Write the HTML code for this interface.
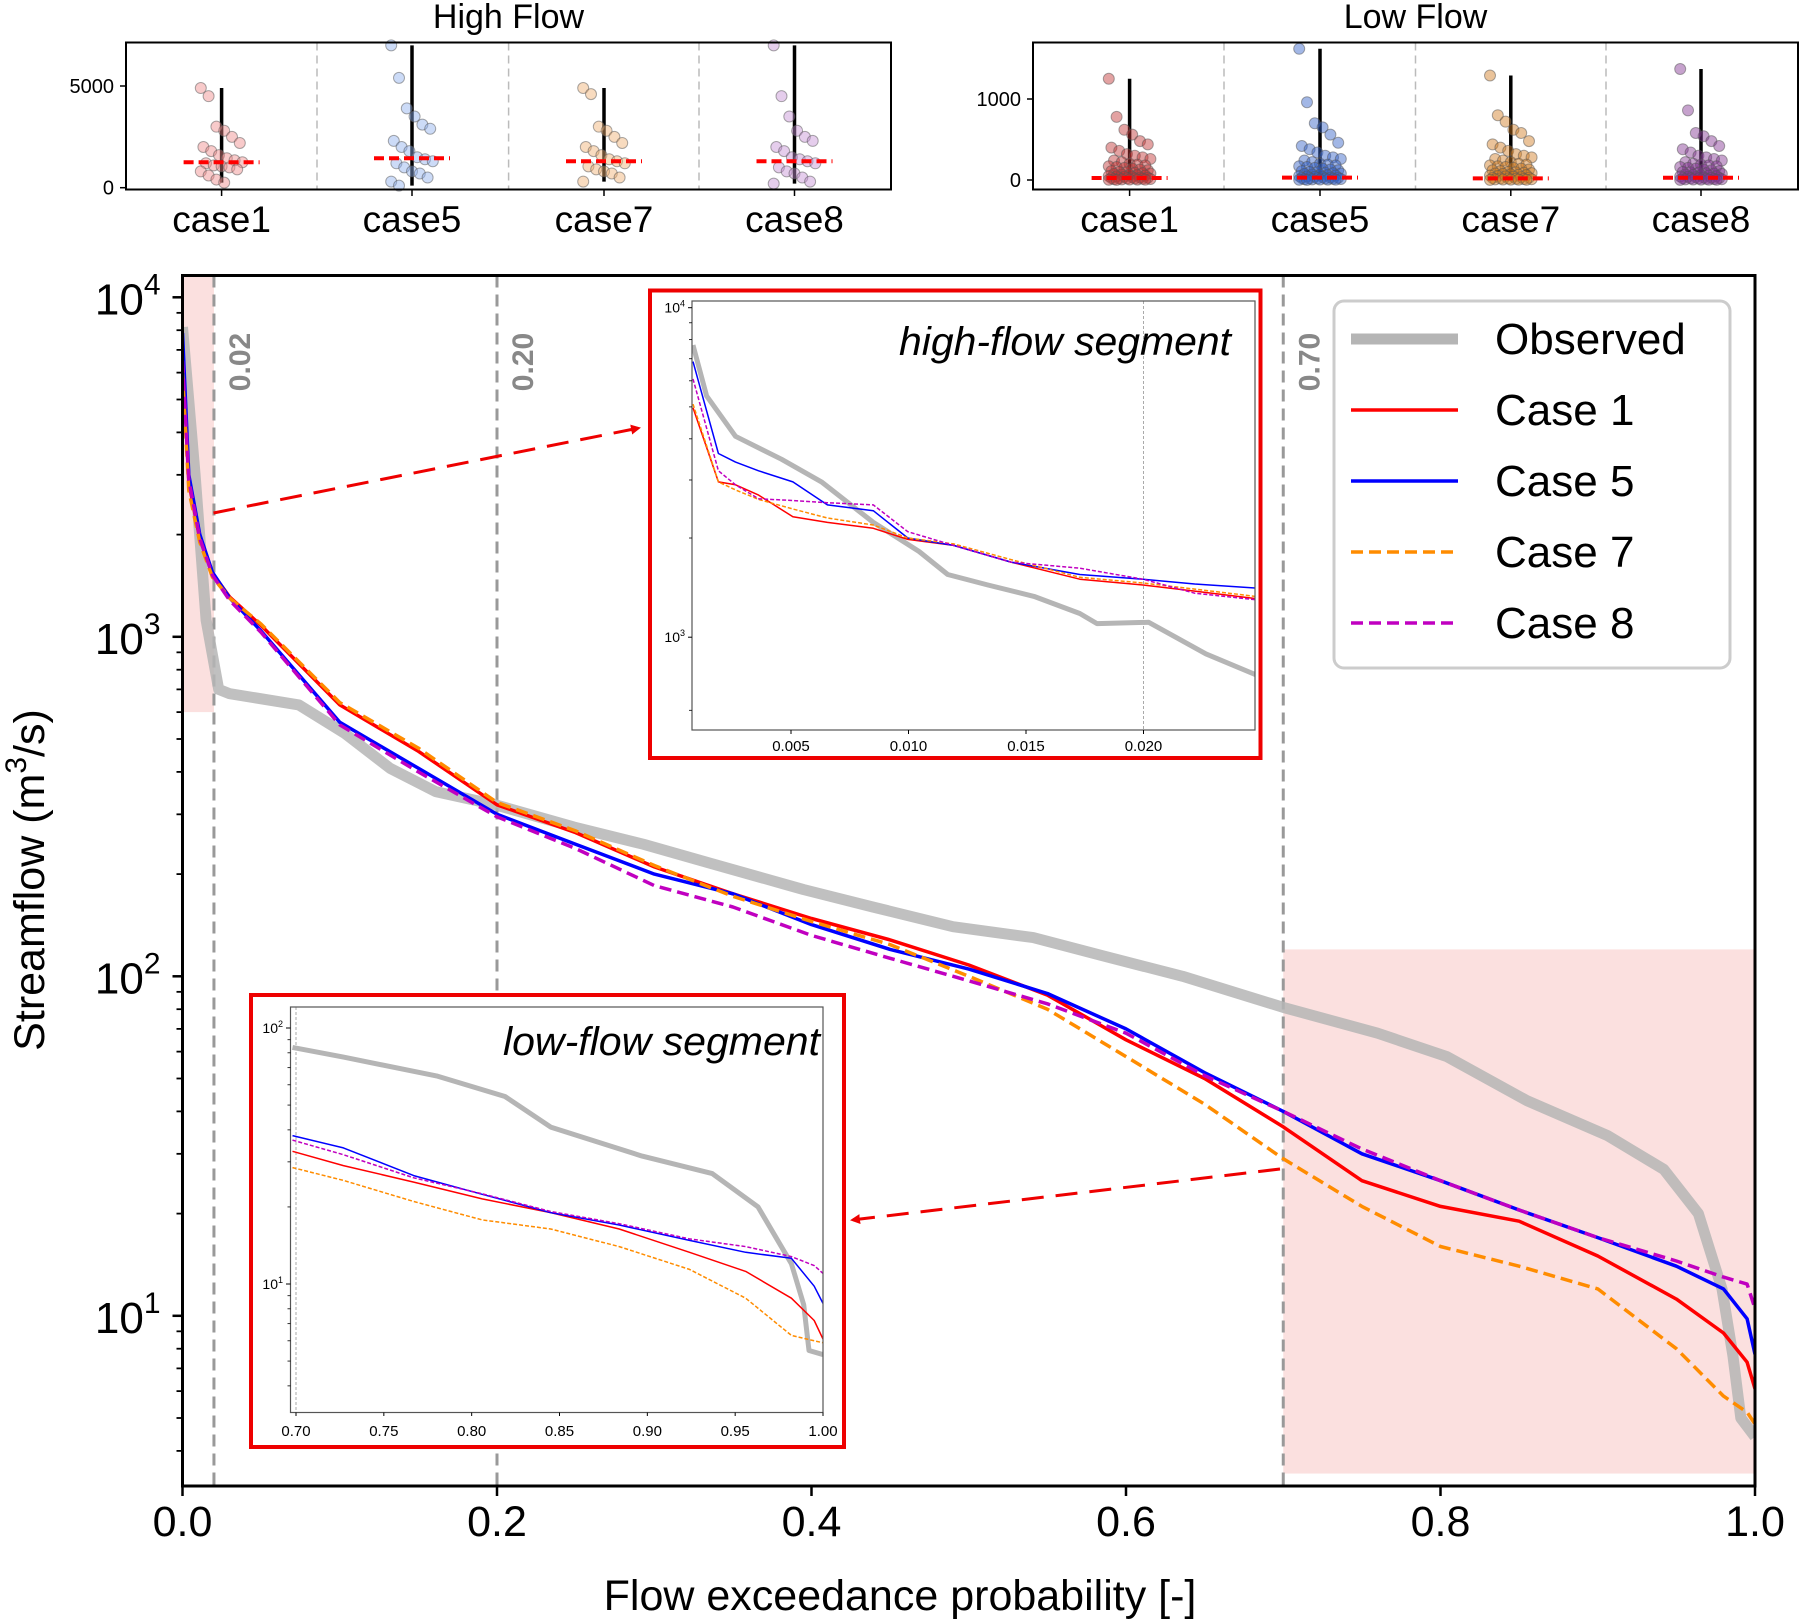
<!DOCTYPE html>
<html><head><meta charset="utf-8"><style>
html,body{margin:0;padding:0;background:#fff;}
svg{display:block;font-family:"Liberation Sans",Arial,sans-serif;}
</style></head><body>
<svg id="chart" width="1800" height="1624" viewBox="0 0 1800 1624" xmlns="http://www.w3.org/2000/svg">
<defs>
<clipPath id="mainClip"><rect x="182.5" y="275.5" width="1572.5" height="1210.5"/></clipPath>
<clipPath id="hiClip"><rect x="692" y="301" width="563" height="429"/></clipPath>
<clipPath id="loClip"><rect x="290.5" y="1007" width="532.5" height="405.5"/></clipPath>
<marker id="arrowHead" markerWidth="10" markerHeight="10" refX="8" refY="5" orient="auto" markerUnits="userSpaceOnUse"><path d="M0,0 L10,5 L0,10 z" fill="#e00"/></marker>
</defs>
</svg>
<script>
// ===== Main flow-duration curve data =====
const obsP = [0,0.008,0.015,0.023,0.03,0.074,0.103,0.132,0.161,0.199,0.249,0.293,0.336,0.395,0.439,0.49,0.541,0.585,0.636,0.7,0.76,0.804,0.855,0.906,0.942,0.964,0.979,0.986,0.991,1.0];
const obsV = [8170,3000,1120,700,680,630,520,410,350,320,275,245,215,180,160,140,130,115,100,81,68,58,43,34,27,20,12,7.6,5,4.4];
const caseP = [0,0.004,0.011,0.019,0.03,0.05,0.1,0.15,0.2,0.25,0.3,0.35,0.4,0.45,0.5,0.55,0.6,0.65,0.7,0.75,0.8,0.85,0.9,0.95,0.98,0.995,1.0];
const case1V = [7300,2850,1940,1540,1310,1080,630,460,320,265,210,175,148,128,108,88,65,50,36,25,21,19,15,11.2,8.9,7.3,6.1];
const case5V = [7850,3000,2000,1550,1300,1040,560,410,300,245,200,175,142,120,105,89,70,52,40,30,25,20.5,17,14,12,9.8,7.7];
const case7V = [6000,2700,1900,1500,1300,1090,640,470,325,268,212,172,145,124,100,80,58,42,29,21,16,14,12,8,5.8,5.2,4.8];
const case8V = [6500,2900,1950,1520,1280,1030,550,400,295,238,185,160,132,113,97,83,68,51,40,31,25,20.5,17,14.5,13,12.4,10.5];
const xTicks = [0,0.2,0.4,0.6,0.8,1.0];
const xTickLabels = ["0.0","0.2","0.4","0.6","0.8","1.0"];
const yDecades = [1,2,3,4];
const thresholds = [0.02,0.20,0.70];
const thresholdLabels = ["0.02","0.20","0.70"];
// ===== High-flow inset =====
const hiP = [0.00083,0.00141,0.00264,0.00459,0.0063,0.0085,0.01045,0.01167,0.01338,0.01534,0.01729,0.01802,0.02022,0.02266,0.02476];
const hiObs = [7700,5400,4070,3470,2960,2230,1820,1550,1440,1330,1180,1100,1110,890,770];
const hiP2 = [0.00083,0.00191,0.00264,0.00362,0.00508,0.00655,0.0085,0.00997,0.01192,0.01436,0.01729,0.01998,0.02218,0.02476];
const hiCase1 = [4970,2960,2900,2700,2320,2230,2140,1980,1900,1690,1500,1440,1380,1310];
const hiCase5 = [6860,3610,3400,3200,2960,2520,2420,2000,1900,1690,1550,1500,1450,1410];
const hiCase7 = [5100,2960,2800,2620,2450,2300,2190,2000,1920,1720,1520,1460,1400,1330];
const hiCase8 = [6080,3200,2900,2630,2600,2560,2520,2090,1900,1690,1620,1500,1360,1300];
const hiTicks = [0.005,0.010,0.015,0.020];
const hiTickLabels = ["0.005","0.010","0.015","0.020"];
// ===== Low-flow inset =====
const loP = [0.698,0.727,0.780,0.819,0.845,0.897,0.937,0.963,0.982,0.989,0.992,1.0];
const loObs = [84,77,65,54,41,31.6,27,20,12,8.3,5.5,5.3];
const loP2 = [0.698,0.727,0.767,0.806,0.845,0.884,0.924,0.956,0.982,0.995,1.0];
const loCase1 = [33,29,25,21.5,19,16.4,13.3,11.2,8.8,7.2,6.1];
const loCase5 = [38,34,26.5,22.4,19,17,14.8,13.3,12.6,9.8,8.4];
const loCase7 = [28.5,25.4,21,17.8,16.4,14,11.4,8.8,6.3,6.0,5.9];
const loCase8 = [36.5,32,26,22.5,19.2,17.2,15,14,12.8,11.8,11];
const loTicks = [0.70,0.75,0.80,0.85,0.90,0.95,1.00];
const loTickLabels = ["0.70","0.75","0.80","0.85","0.90","0.95","1.00"];
// ===== Strip plots =====
const stripCats = ["case1","case5","case7","case8"];
const highC1 = [4900,4500,3000,2800,2500,2200,2000,1800,1600,1450,1350,1250,1200,1100,1050,1000,900,800,600,400,250];
const highC5 = [7000,5400,3900,3500,3100,2900,2300,2000,1800,1500,1400,1300,1200,1000,800,700,500,300,100];
const highC7 = [4900,4600,3000,2800,2500,2200,2000,1800,1600,1400,1300,1200,1050,900,800,700,500,300];
const highC8 = [7000,4500,3500,2800,2500,2300,2000,1800,1500,1400,1300,1200,1000,800,700,500,300,200];
const highMed = [1250,1450,1300,1300];
const highMax = [4900,7000,4900,7000];
const lowC1 = [1250,780,620,560,480,440,400,360,320,300,280,260,240,220,200,190,180,170,160,150,140,130,120,110,100,95,90,85,80,75,70,65,60,55,50,45,40,35,30,28,25,22,20,18,15,12,10,8,6,5,4,3,2];
const lowC5 = [1620,960,700,650,560,460,420,380,340,300,280,260,240,220,200,190,180,170,160,150,140,130,120,110,100,95,90,85,80,75,70,65,60,55,50,45,40,35,30,28,25,22,20,18,15,12,10,8,6,5,4,3,2];
const lowC7 = [1290,800,720,620,580,480,440,400,360,320,300,280,260,240,220,200,190,180,170,160,150,140,130,120,110,100,95,90,85,80,75,70,65,60,55,50,45,40,35,30,25,20,18,15,12,10,8,6,5,4,3,2];
const lowC8 = [1370,860,580,540,480,420,380,340,300,280,260,240,220,200,190,180,170,160,150,140,130,120,110,100,95,90,85,80,75,70,65,60,55,50,45,40,35,30,28,25,22,20,18,15,12,10,8,6,5,4,3,2];
const lowMed = [25,30,20,28];
const lowMax = [1250,1620,1290,1370];

const NS = "http://www.w3.org/2000/svg";
const svg = document.getElementById('chart');
function mk(tag, attrs, parent, text){
  const e = document.createElementNS(NS, tag);
  for (const k in attrs) e.setAttribute(k, attrs[k]);
  if (text !== undefined) e.textContent = text;
  (parent || svg).appendChild(e);
  return e;
}
function lineD(ps, vs, fx, fy){ return ps.map((p,i)=>(i?'L':'M')+fx(p).toFixed(1)+','+fy(vs[i]).toFixed(1)).join(' '); }

// ===== Main axes =====
const L=182.5,R=1755,T=275.5,B=1486;
const X = p => L + p*(R-L);
const Y = v => 297.3 + (4-Math.log10(v))*339.5;
let g = mk('g',{});


let r = mk('rect',{x:X(0),y:T,width:X(0.02)-X(0),height:Y(600)-T,fill:'#fbe0df'},g);
 
r = mk('rect',{x:X(0.7),y:Y(120),width:X(1)-X(0.7),height:Y(3.43)-Y(120),fill:'#fbe0df'},g);
 
thresholds.forEach((t,i)=>{
  const l = mk('line',{x1:X(t),x2:X(t),y1:T,y2:B,stroke:'#999','stroke-width':3,'stroke-dasharray':'12,7'},g);
   
  const tx = mk('text',{x:0,y:0,transform:`translate(${X(t)+36},${362}) rotate(-90)`,'text-anchor':'middle','font-size':30,'font-weight':'bold',fill:'#888'},g,thresholdLabels[i]);
   
});
const cg = mk('g',{'clip-path':'url(#mainClip)'},g);
function series(ps,vs,fx,fy,col,w,dash,name,parent,op){
  const a = {d:lineD(ps,vs,fx,fy),fill:'none',stroke:col,'stroke-width':w,'stroke-linejoin':'round'};
  if(dash) a['stroke-dasharray']=dash;
  if(op) a['stroke-opacity']=op;
  const p = mk('path',a,parent);
   
}
series(obsP,obsV,X,Y,'#b5b5b5',11,null,'observed-line',cg,0.85);
series(caseP,case1V,X,Y,'#ff0000',3.5,null,'case1-line',cg);
series(caseP,case5V,X,Y,'#0000ff',3.5,null,'case5-line',cg);
series(caseP,case7V,X,Y,'#ff8c00',3.5,'12,6','case7-line',cg);
series(caseP,case8V,X,Y,'#c000c0',3.5,'12,6','case8-line',cg);
r = mk('rect',{x:L,y:T,width:R-L,height:B-T,fill:'none',stroke:'#000','stroke-width':3},g);
 
xTicks.forEach((t,i)=>{
  mk('line',{x1:X(t),x2:X(t),y1:B,y2:B+10,stroke:'#000','stroke-width':2.5},g);
  const tx = mk('text',{x:X(t),y:B+50,'text-anchor':'middle','font-size':43},g,xTickLabels[i]);
   
});
yDecades.forEach(d=>{
  const yy = Y(Math.pow(10,d));
  mk('line',{x1:L-10,x2:L,y1:yy,y2:yy,stroke:'#000','stroke-width':2.5},g);
  const tx = mk('text',{x:L-22,y:yy+17,'text-anchor':'end','font-size':44},g);
   
  mk('tspan',{},tx,'10');
  mk('tspan',{dy:-20,'font-size':30},tx,String(d));
});
for(let d=0; d<4; d++) for(let m=2;m<10;m++){
  const yy = Y(m*Math.pow(10,d));
  if(yy>T && yy<B) mk('line',{x1:L-6,x2:L,y1:yy,y2:yy,stroke:'#000','stroke-width':1.8},g);
}
let t = mk('text',{x:900,y:1610,'text-anchor':'middle','font-size':43},g,'Flow exceedance probability [-]');
 
t = mk('text',{x:0,y:0,transform:'translate(44,880) rotate(-90)','text-anchor':'middle','font-size':43},g);
 
mk('tspan',{},t,'Streamflow (m');mk('tspan',{dy:-18,'font-size':30},t,'3');mk('tspan',{dy:18},t,'/s)');

let a = mk('line',{x1:213.5,y1:513,x2:639,y2:428,stroke:'#e00','stroke-width':3,'stroke-dasharray':'22,12','marker-end':'url(#arrowHead)'});
 
a = mk('line',{x1:1280,y1:1169,x2:852,y2:1220,stroke:'#e00','stroke-width':3,'stroke-dasharray':'22,12','marker-end':'url(#arrowHead)'});
 

const lg = mk('g',{});
 
mk('rect',{x:1334,y:301,width:396,height:367,rx:10,fill:'#fff','fill-opacity':0.9,stroke:'#ccc','stroke-width':3},lg);
const legNames=['Observed','Case 1','Case 5','Case 7','Case 8'];
const legCols=['#b5b5b5','#ff0000','#0000ff','#ff8c00','#c000c0'];
const legW=[11,3.5,3.5,3.5,3.5];
const legDash=[null,null,null,'12,6','12,6'];
legNames.forEach((n,i)=>{
  const yy = 339 + i*71;
  const e = mk('g',{},lg);
  
  
  const at={x1:1351,x2:1458,y1:yy,y2:yy,stroke:legCols[i],'stroke-width':legW[i]};
  if(legDash[i]) at['stroke-dasharray']=legDash[i];
  mk('line',at,e);
  mk('text',{x:1495,y:yy+15,'font-size':44},e,n);
});

// ===== High-flow inset =====
const HX = p => 791 + (p-0.005)*23500;
const HY = v => 307.7 + (4-Math.log10(v))*329.5;
const hg = mk('g',{});
 
mk('rect',{x:650,y:290.5,width:610.5,height:467.5,fill:'#fff',stroke:'#e00','stroke-width':4},hg);
mk('line',{x1:HX(0.02),x2:HX(0.02),y1:301,y2:730,stroke:'#aaa','stroke-width':1,'stroke-dasharray':'3,2'},hg);
const hc = mk('g',{'clip-path':'url(#hiClip)'},hg);
series(hiP,hiObs,HX,HY,'#b5b5b5',5,null,'inset-observed-line',hc);
series(hiP2,hiCase1,HX,HY,'#ff0000',1.5,null,'inset-case1-line',hc);
series(hiP2,hiCase5,HX,HY,'#0000ff',1.5,null,'inset-case5-line',hc);
series(hiP2,hiCase7,HX,HY,'#ff8c00',1.5,'4,2','inset-case7-line',hc);
series(hiP2,hiCase8,HX,HY,'#c000c0',1.5,'4,2','inset-case8-line',hc);
mk('rect',{x:692,y:301,width:563,height:429,fill:'none',stroke:'#555','stroke-width':1.2},hg);
hiTicks.forEach((tk,i)=>{
  mk('line',{x1:HX(tk),x2:HX(tk),y1:730,y2:734,stroke:'#000','stroke-width':1},hg);
  mk('text',{x:HX(tk),y:751,'text-anchor':'middle','font-size':15},hg,hiTickLabels[i]);
});
[3,4].forEach(d=>{
  const yy=HY(Math.pow(10,d));
  mk('line',{x1:688,x2:692,y1:yy,y2:yy,stroke:'#000','stroke-width':1},hg);
  const tx=mk('text',{x:685,y:yy+5,'text-anchor':'end','font-size':14},hg);
  mk('tspan',{},tx,'10');mk('tspan',{dy:-6,'font-size':9},tx,String(d));
});
for(let m=2;m<10;m++){const yy=HY(m*1000); if(yy>301) mk('line',{x1:689,x2:692,y1:yy,y2:yy,stroke:'#000','stroke-width':0.8},hg);}
const yy6=HY(600); if(yy6<730) mk('line',{x1:689,x2:692,y1:yy6,y2:yy6,stroke:'#000','stroke-width':0.8},hg);
t = mk('text',{x:1231,y:355,'text-anchor':'end','font-size':40,'font-style':'italic',textLength:332,lengthAdjust:'spacingAndGlyphs'},hg,'high-flow segment');
 

// ===== Low-flow inset =====
const LX = p => 296 + (p-0.7)*1756.7;
const LY = v => 1028 + (2-Math.log10(v))*256;
const lgp = mk('g',{});
 
mk('rect',{x:251,y:995,width:593,height:452,fill:'#fff',stroke:'#e00','stroke-width':4},lgp);
mk('line',{x1:LX(0.7),x2:LX(0.7),y1:1007,y2:1412.5,stroke:'#aaa','stroke-width':1,'stroke-dasharray':'3,2'},lgp);
const lc = mk('g',{'clip-path':'url(#loClip)'},lgp);
series(loP,loObs,LX,LY,'#b5b5b5',5,null,'inset-observed-line',lc);
series(loP2,loCase1,LX,LY,'#ff0000',1.5,null,'inset-case1-line',lc);
series(loP2,loCase5,LX,LY,'#0000ff',1.5,null,'inset-case5-line',lc);
series(loP2,loCase7,LX,LY,'#ff8c00',1.5,'4,2','inset-case7-line',lc);
series(loP2,loCase8,LX,LY,'#c000c0',1.5,'4,2','inset-case8-line',lc);
mk('rect',{x:290.5,y:1007,width:532.5,height:405.5,fill:'none',stroke:'#555','stroke-width':1.2},lgp);
loTicks.forEach((tk,i)=>{
  mk('line',{x1:LX(tk),x2:LX(tk),y1:1412.5,y2:1416,stroke:'#000','stroke-width':1},lgp);
  mk('text',{x:LX(tk),y:1436,'text-anchor':'middle','font-size':15},lgp,loTickLabels[i]);
});
[1,2].forEach(d=>{
  const yy=LY(Math.pow(10,d));
  mk('line',{x1:286,x2:290.5,y1:yy,y2:yy,stroke:'#000','stroke-width':1},lgp);
  const tx=mk('text',{x:283,y:yy+5,'text-anchor':'end','font-size':14},lgp);
  mk('tspan',{},tx,'10');mk('tspan',{dy:-6,'font-size':9},tx,String(d));
});
for(let d=0;d<2;d++)for(let m=2;m<10;m++){const yy=LY(m*Math.pow(10,d)); if(yy>1007&&yy<1412) mk('line',{x1:287.5,x2:290.5,y1:yy,y2:yy,stroke:'#000','stroke-width':0.8},lgp);}
t = mk('text',{x:820,y:1055,'text-anchor':'end','font-size':40,'font-style':'italic',textLength:317,lengthAdjust:'spacingAndGlyphs'},lgp,'low-flow segment');
 

// ===== Strip plots =====
function stripPanel(x0,x1,title,catX,divX,sets,meds,maxs,fy,ticks,tickLabels,colors,name){
  const pg = mk('g',{});
   
  const tt = mk('text',{x:(x0+x1)/2,y:28,'text-anchor':'middle','font-size':34},pg,title);
   
  divX.forEach(dx=>mk('line',{x1:dx,x2:dx,y1:42.5,y2:189.5,stroke:'#bbb','stroke-width':1.5,'stroke-dasharray':'8,5'},pg));
  sets.forEach((vals,c)=>{
    const cx = catX[c];
    const mn = Math.min.apply(null,vals);
    mk('line',{x1:cx,x2:cx,y1:fy(mn),y2:fy(maxs[c]),stroke:'#000','stroke-width':3.5},pg);
    vals.forEach((v,i)=>{
      const jx = (((i*37)%17)-8)*2.6;
      const pt = mk('circle',{cx:cx+jx,cy:fy(v),r:5.5,fill:colors[c],'fill-opacity':0.45,stroke:'#555','stroke-opacity':0.5,'stroke-width':1},pg);
       
    });
    const md = mk('line',{x1:cx-38,x2:cx+38,y1:fy(meds[c]),y2:fy(meds[c]),stroke:'#ff0000','stroke-width':4,'stroke-dasharray':'10,5'},pg);
     
    const cl = mk('text',{x:cx,y:232,'text-anchor':'middle','font-size':37},pg,stripCats[c]);
     
    mk('line',{x1:cx,x2:cx,y1:189.5,y2:196,stroke:'#000','stroke-width':1.5},pg);
  });
  mk('rect',{x:x0,y:42.5,width:x1-x0,height:147,fill:'none',stroke:'#000','stroke-width':2},pg);
  ticks.forEach((tk,i)=>{
    mk('line',{x1:x0-6,x2:x0,y1:fy(tk),y2:fy(tk),stroke:'#000','stroke-width':1.5},pg);
    mk('text',{x:x0-12,y:fy(tk)+7,'text-anchor':'end','font-size':20},pg,tickLabels[i]);
  });
}
stripPanel(126,891,'High Flow',[221.6,412,604,794.5],[317,508.6,699],[highC1,highC5,highC7,highC8],highMed,highMax,
  v=>187.7 - v*(101.7/5000),[0,5000],['0','5000'],['#f08a8a','#8fb0ee','#f0b070','#c690d4'],'high-flow-strip');
stripPanel(1033,1798,'Low Flow',[1129.6,1320,1510.8,1701],[1224,1415.5,1606],[lowC1,lowC5,lowC7,lowC8],lowMed,lowMax,
  v=>180 - v*0.081,[0,1000],['0','1000'],['#c03030','#3060c8','#d07a20','#803090'],'low-flow-strip');
</script>
</body></html>
